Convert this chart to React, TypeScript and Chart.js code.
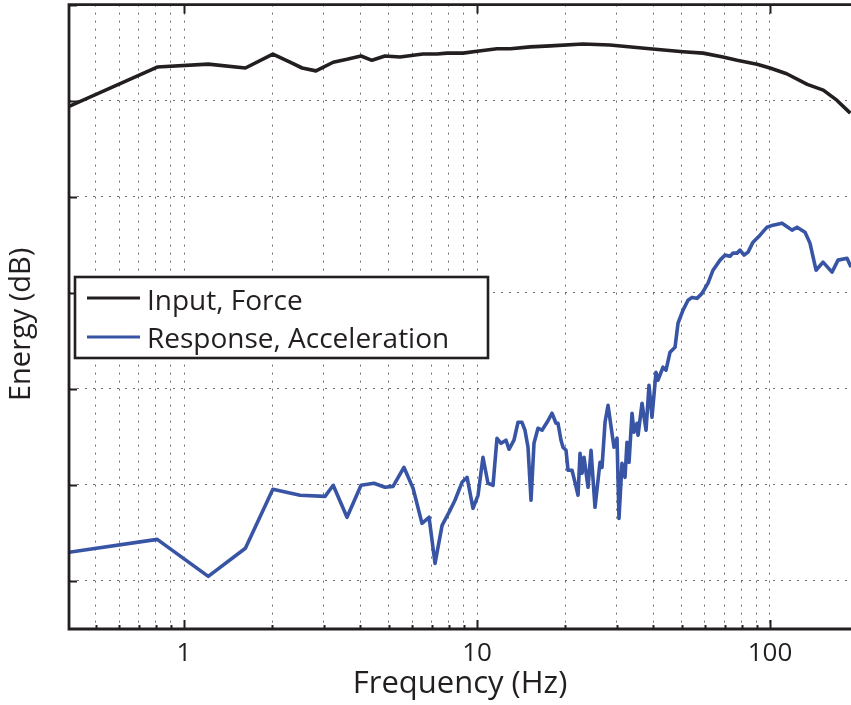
import { useEffect, useRef } from 'react';
import { Chart, registerables } from 'chart.js';

Chart.register(...registerables);

// ---- data ----
const forceFreq = [0.405, 0.81, 1.21, 1.62, 2.01, 2.3, 2.53, 2.82, 3.23, 3.6, 4.02, 4.38, 4.85, 5.46, 6.54, 7.3, 7.9, 8.96, 10, 11.7, 13, 15.2, 17.8, 23, 28.4, 38.9, 50.5, 59.1, 69.1, 77.2, 90.3, 100, 114, 134, 152, 169, 188];
const forceDb = [49.4, 53.5, 53.8, 53.4, 54.85, 54.0, 53.4, 53.1, 54.0, 54.3, 54.65, 54.2, 54.65, 54.55, 54.85, 54.85, 54.95, 54.95, 55.15, 55.4, 55.4, 55.6, 55.7, 55.9, 55.8, 55.4, 55.1, 54.95, 54.55, 54.2, 53.8, 53.4, 52.8, 51.7, 51.1, 50.05, 48.7];

const accelFreq = [0.405, 0.81, 1.21, 1.62, 2.01, 2.49, 3.03, 3.23, 3.6, 4.02, 4.45, 4.85, 5.17, 5.63, 6.05, 6.49, 6.86, 7.19, 7.6, 8.09, 8.41, 8.89, 9.25, 9.69, 10.08, 10.48, 10.9, 11.34, 11.7, 12.08, 12.56, 12.86, 13.37, 13.8, 14.24, 14.58, 14.93, 15.29, 15.65, 16.15, 16.67, 17.34, 18.03, 18.61, 18.9, 19.35, 19.66, 20.13, 20.45, 21.1, 21.6, 22.12, 22.47, 22.83, 23.19, 23.93, 24.5, 25.28, 26.29, 26.71, 27.35, 28.0, 28.89, 29.35, 30.05, 30.52, 31.25, 32.0, 32.5, 33.03, 33.81, 34.35, 35.17, 35.45, 36.58, 37.75, 38.64, 39.56, 40.82, 41.47, 43.13, 44.16, 45.58, 47.41, 48.54, 50.48, 52.5, 54.18, 56.34, 58.61, 61.44, 63.9, 67.52, 70.23, 73.05, 74.79, 77.18, 79.03, 81.56, 84.17, 87.5, 92.45, 97.68, 102.4, 109.9, 112.5, 118.9, 123.7, 131.7, 136.9, 143.6, 151.7, 162.8, 170.7, 183.2, 189];
const accelDb = [2.98, 4.33, 0.48, 3.4, 9.54, 8.92, 8.81, 9.96, 6.63, 9.96, 10.17, 9.75, 9.85, 11.83, 9.65, 6.0, 6.63, 1.83, 5.79, 7.35, 8.4, 10.27, 10.79, 7.56, 8.92, 12.88, 10.17, 9.96, 14.85, 14.33, 14.65, 13.71, 14.65, 16.52, 16.52, 15.69, 13.92, 8.4, 14.33, 15.9, 15.69, 16.52, 17.46, 16.42, 16.42, 14.65, 13.92, 13.6, 11.52, 11.52, 10.27, 8.92, 13.29, 11.21, 12.88, 9.75, 13.6, 7.67, 12.35, 11.83, 16.52, 18.29, 15.38, 13.92, 14.85, 6.52, 12.25, 10.79, 14.44, 12.35, 17.46, 15.48, 16.42, 15.17, 18.5, 15.69, 20.38, 17.04, 21.73, 20.9, 22.25, 21.94, 23.81, 24.33, 26.83, 28.19, 29.23, 29.52, 29.42, 29.94, 31.0, 32.35, 33.4, 33.92, 33.81, 34.13, 34.13, 34.44, 33.92, 34.23, 35.27, 36.0, 36.83, 37.04, 37.25, 37.04, 36.52, 36.83, 36.31, 35.17, 32.35, 33.19, 32.15, 33.4, 33.6, 32.67];

const seriesLabels = ['Input, Force', 'Response, Acceleration'];
const xGridValues = [0.5, 0.6, 0.7, 0.8, 0.9, 1, 2, 3, 4, 5, 6, 7, 8, 9, 10, 20, 30, 40, 50, 60, 70, 80, 90, 100];
const xLabelValues = [1, 10, 100];
const xLabels = ['1', '10', '100'];
const yGridValues = [0, 10, 20, 30, 40, 50, 60];
const X_MIN = 0.405;
const X_MAX = 189;
const Y_MIN = -5;
const Y_MAX = 60;

// ---- style ----
const FONT = '"Open Sans", sans-serif';
const INK = '#231f20';
const BLUE = '#3854a5';
const GRID = '#6d6d6d';
const COLORS = [INK, BLUE];

const framePlugin = {
  id: 'matlabFrame',
  afterDraw(chart: any) {
    const { ctx, chartArea, scales } = chart;
    const { left, right, top, bottom } = chartArea;
    const x = scales.x;
    const y = scales.y;
    ctx.save();
    // ticks (inward)
    ctx.strokeStyle = INK;
    ctx.lineWidth = 2;
    xGridValues.forEach((v) => {
      const px = Math.round(x.getPixelForValue(v)) + 0.5;
      const major = xLabelValues.includes(v);
      const len = major ? 9 : 4;
      ctx.beginPath();
      ctx.moveTo(px, bottom);
      ctx.lineTo(px, bottom - len);
      ctx.stroke();
      if (major) {
        ctx.beginPath();
        ctx.moveTo(px, top);
        ctx.lineTo(px, top + len);
        ctx.stroke();
      }
    });
    yGridValues.forEach((v) => {
      const py = Math.round(y.getPixelForValue(v)) + 0.5;
      ctx.beginPath();
      ctx.moveTo(left, py);
      ctx.lineTo(left + 8, py);
      ctx.stroke();
    });
    // frame
    ctx.lineWidth = 2.8;
    ctx.lineJoin = 'miter';
    ctx.beginPath();
    ctx.moveTo(right + 3, top);
    ctx.lineTo(left, top);
    ctx.lineTo(left, bottom);
    ctx.lineTo(right + 3, bottom);
    ctx.stroke();

    // legend
    const bx = 75, by = 277, bw = 413, bh = 81;
    ctx.fillStyle = '#ffffff';
    ctx.fillRect(bx, by, bw, bh);
    ctx.lineWidth = 2.6;
    ctx.strokeStyle = INK;
    ctx.strokeRect(bx, by, bw, bh);
    const rows = [298, 337];
    const bases = [310, 348];
    ctx.font = `28px ${FONT}`;
    ctx.textAlign = 'left';
    ctx.textBaseline = 'alphabetic';
    seriesLabels.forEach((label, i) => {
      ctx.strokeStyle = COLORS[i];
      ctx.lineWidth = 3.2;
      ctx.beginPath();
      ctx.moveTo(87, rows[i]);
      ctx.lineTo(140, rows[i]);
      ctx.stroke();
      ctx.fillStyle = INK;
      ctx.fillText(label, 147, bases[i]);
    });
    ctx.restore();
  },
};

export default function App() {
  const canvasRef = useRef<HTMLCanvasElement | null>(null);

  useEffect(() => {
    const canvas = canvasRef.current;
    if (!canvas) return;
    const chart = new Chart(canvas, {
      type: 'line',
      data: {
        datasets: [
          {
            label: seriesLabels[0],
            data: forceFreq.map((f, i) => ({ x: f, y: forceDb[i] })),
            borderColor: INK,
            borderWidth: 3.6,
            pointRadius: 0,
            tension: 0,
            borderJoinStyle: 'round',
          },
          {
            label: seriesLabels[1],
            data: accelFreq.map((f, i) => ({ x: f, y: accelDb[i] })),
            borderColor: BLUE,
            borderWidth: 3.6,
            pointRadius: 0,
            tension: 0,
            borderJoinStyle: 'round',
          },
        ],
      },
      options: {
        responsive: false,
        animation: false,
        layout: { padding: { top: 4.6, left: 0, right: 0, bottom: 0 } },
        plugins: {
          legend: { display: false },
          tooltip: { enabled: false },
        },
        scales: {
          x: {
            type: 'logarithmic',
            min: X_MIN,
            max: X_MAX,
            afterBuildTicks: (s: any) => {
              s.ticks = xGridValues.map((v) => ({ value: v }));
            },
            afterFit: (s: any) => {
              s.height = 76;
            },
            ticks: {
              autoSkip: false,
              maxRotation: 0,
              minRotation: 0,
              padding: 9,
              color: INK,
              font: { family: FONT, size: 26 },
              callback: (v: any) => {
                const idx = xLabelValues.indexOf(Number(v));
                return idx >= 0 ? xLabels[idx] : '';
              },
            },
            grid: { color: GRID, lineWidth: 1, drawTicks: false },
            border: { display: false, dash: [2, 6] },
            title: {
              display: true,
              text: 'Frequency (Hz)',
              color: INK,
              font: { family: FONT, size: 31 },
              padding: { top: 0, bottom: 2 },
            },
          },
          y: {
            type: 'linear',
            min: Y_MIN,
            max: Y_MAX,
            afterBuildTicks: (s: any) => {
              s.ticks = yGridValues.map((v) => ({ value: v }));
            },
            afterFit: (s: any) => {
              s.width = 69;
            },
            ticks: { display: false },
            grid: { color: GRID, lineWidth: 1, drawTicks: false },
            border: { display: false, dash: [2, 6] },
            title: {
              display: true,
              text: 'Energy (dB)\u00a0\u00a0',
              color: INK,
              font: { family: FONT, size: 29 },
              padding: { top: 4, bottom: 0 },
            },
          },
        },
      },
      plugins: [framePlugin],
    });
    return () => chart.destroy();
  }, []);

  return (
    <div style={{ position: 'fixed', left: 0, top: 0, width: 851, height: 705, background: '#fff' }}>
      <canvas ref={canvasRef} width={851} height={705} style={{ display: 'block' }} />
    </div>
  );
}
